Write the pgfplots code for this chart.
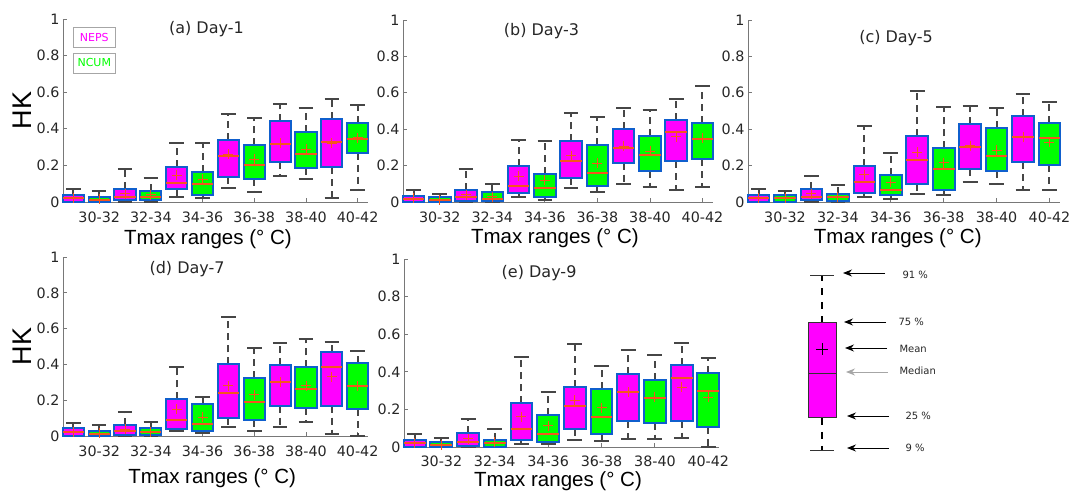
\documentclass[border=0pt]{standalone}
\usepackage{pgfplots}
\pgfplotsset{compat=1.18}
\usepackage{pgfplotstable}
\usepgfplotslibrary{statistics}
\usetikzlibrary{arrows.meta}
\usepackage{fontspec}
\setmainfont{DejaVu Sans}
\newfontfamily\helv{Liberation Sans}
\definecolor{neps}{RGB}{255,0,255}
\definecolor{ncum}{RGB}{0,255,0}
\definecolor{bxblue}{RGB}{15,95,205}
\definecolor{medc}{RGB}{245,85,30}
\definecolor{whc}{RGB}{70,70,70}
\definecolor{axc}{RGB}{120,120,120}
\definecolor{txc}{RGB}{38,38,38}

% columns: position, lower whisker, lower quartile, median, upper quartile, upper whisker, mean
\pgfplotstableread{
pos lw lq med uq uw mean
1 0 0 0.02 0.04 0.07 0.02
2 0 0 0.01 0.027 0.06 0.015
3 0 0.01 0.03 0.07 0.18 0.045
4 0 0.01 0.03 0.06 0.13 0.04
5 0.03 0.07 0.105 0.19 0.32 0.145
6 0.02 0.04 0.10 0.165 0.32 0.125
7 0.077 0.137 0.25 0.34 0.48 0.26
8 0.055 0.128 0.20 0.31 0.46 0.235
9 0.142 0.218 0.315 0.44 0.534 0.32
10 0.126 0.184 0.262 0.38 0.512 0.288
11 0.02 0.19 0.326 0.453 0.563 0.32
12 0.066 0.27 0.344 0.433 0.53 0.35
}\tA
\pgfplotstableread{
pos lw lq med uq uw mean
1 0 0 0.016 0.035 0.066 0.02
2 0 0 0.011 0.026 0.044 0.01
3 0 0.004 0.026 0.066 0.18 0.04
4 0 0.004 0.016 0.055 0.10 0.03
5 0.026 0.048 0.09 0.198 0.34 0.143
6 0.011 0.03 0.075 0.154 0.337 0.12
7 0.075 0.134 0.227 0.333 0.487 0.253
8 0.053 0.09 0.158 0.313 0.469 0.212
9 0.099 0.216 0.298 0.403 0.518 0.305
10 0.084 0.172 0.258 0.364 0.505 0.28
11 0.066 0.225 0.386 0.45 0.564 0.359
12 0.084 0.236 0.344 0.436 0.64 0.35
}\tB
\pgfplotstableread{
pos lw lq med uq uw mean
1 0 0 0.02 0.037 0.07 0.02
2 0 0 0.02 0.037 0.06 0.02
3 0 0.01 0.028 0.07 0.142 0.046
4 0 0.005 0.028 0.044 0.092 0.028
5 0.03 0.05 0.109 0.2 0.418 0.15
6 0.017 0.037 0.064 0.151 0.267 0.11
7 0.044 0.1 0.23 0.365 0.608 0.274
8 0.037 0.066 0.179 0.295 0.52 0.215
9 0.109 0.179 0.304 0.427 0.529 0.31
10 0.1 0.171 0.251 0.405 0.517 0.283
11 0.066 0.218 0.355 0.47 0.591 0.355
12 0.066 0.202 0.352 0.434 0.548 0.329
}\tC
\pgfplotstableread{
pos lw lq med uq uw mean
1 0 0 0.02 0.043 0.07 0.02
2 0 0 0.011 0.03 0.06 0.015
3 0 0.006 0.03 0.06 0.136 0.037
4 0 0.006 0.022 0.043 0.08 0.025
5 0.03 0.037 0.09 0.205 0.384 0.15
6 0.015 0.03 0.067 0.18 0.22 0.104
7 0.052 0.1 0.242 0.40 0.663 0.28
8 0.028 0.09 0.19 0.326 0.494 0.23
9 0.048 0.17 0.30 0.397 0.518 0.30
10 0.077 0.155 0.26 0.384 0.542 0.28
11 0.01 0.17 0.387 0.467 0.523 0.33
12 0 0.15 0.28 0.406 0.477 0.28
}\tD
\pgfplotstableread{
pos lw lq med uq uw mean
1 0 0 0.021 0.039 0.071 0.02
2 0 0 0.011 0.028 0.05 0.012
3 0 0.004 0.025 0.075 0.151 0.043
4 0 0 0.021 0.036 0.094 0.025
5 0.018 0.036 0.096 0.234 0.48 0.16
6 0.014 0.027 0.069 0.169 0.293 0.112
7 0.039 0.098 0.217 0.32 0.55 0.249
8 0.03 0.071 0.16 0.306 0.432 0.208
9 0.045 0.138 0.29 0.386 0.517 0.29
10 0.04 0.13 0.258 0.357 0.491 0.265
11 0.05 0.14 0.365 0.438 0.555 0.317
12 0 0.107 0.298 0.394 0.474 0.266
}\tE
% explanation box (values in picture units)
\pgfplotstableread{
pos lw lq med uq uw mean
822 42 74 119 169 217 143
}\tF

\tikzset{ttl/.style={font=\fontsize{16}{19}\selectfont, text=txc}}

\pgfplotsset{
  boxplot/wline/.style={whc, line width=2pt, dash pattern=on 7pt off 5pt},
  boxplot/wcap/.style={whc, line width=2pt, solid},
  boxplot/draw/lower whisker/.code={%
    \draw[/pgfplots/boxplot/wline]
      (boxplot box cs:\pgfplotsboxplotvalue{lower quartile},0.5) --
      (boxplot box cs:\pgfplotsboxplotvalue{lower whisker},0.5);
    \draw[/pgfplots/boxplot/wcap]
      (boxplot whisker cs:\pgfplotsboxplotvalue{lower whisker},0) --
      (boxplot whisker cs:\pgfplotsboxplotvalue{lower whisker},1);
  },
  boxplot/draw/upper whisker/.code={%
    \draw[/pgfplots/boxplot/wline]
      (boxplot box cs:\pgfplotsboxplotvalue{upper quartile},0.5) --
      (boxplot box cs:\pgfplotsboxplotvalue{upper whisker},0.5);
    \draw[/pgfplots/boxplot/wcap]
      (boxplot whisker cs:\pgfplotsboxplotvalue{upper whisker},0) --
      (boxplot whisker cs:\pgfplotsboxplotvalue{upper whisker},1);
  },
  panel/.style={
    scale only axis, anchor=south west,
    xmin=0.6, xmax=12.4, ymin=0, ymax=1,
    axis x line*=bottom, axis y line*=left,
    axis line style={draw=axc, line width=0.9pt},
    every tick/.style={draw=axc, line width=0.9pt},
    tick align=inside, major tick length=4pt,
    xtick={2,4,6,8,10,12},
    xticklabels={30-32,32-34,34-36,36-38,38-40,40-42},
    ytick={0,0.2,0.4,0.6,0.8,1},
    yticklabels={0,0.2,0.4,0.6,0.8,1},
    ticklabel style={font=\fontsize{14.3}{17}\selectfont, text=txc},
    xticklabel style={anchor=center, yshift=-15pt},
    xlabel={Tmax ranges (° C)},
    clip=false,
    boxplot/draw direction=y,
    boxplot/box extend=0.82,
    boxplot/whisker extend=0.56,
    boxplot/every box/.style={draw=bxblue, line width=2pt},
    boxplot/every median/.style={draw=medc, line width=2pt},
  },
  xlab/.style 2 args={every axis x label/.style={at={(axis description cs:#1,#2)}, anchor=center, font=\helv\fontsize{20.5}{24}\selectfont, text=black}},
  hk/.style={ylabel={HK}, every axis y label/.style={at={(axis description cs:-0.134,0.5)}, rotate=90, anchor=center, font=\helv\fontsize{27}{30}\selectfont, text=black}},
}

% one box: table, row, draw position, fill colour
\newcommand{\onebox}[4]{%
  \pgfplotstablegetelem{#2}{lw}\of#1\let\bLW\pgfplotsretval
  \pgfplotstablegetelem{#2}{lq}\of#1\let\bLQ\pgfplotsretval
  \pgfplotstablegetelem{#2}{med}\of#1\let\bMED\pgfplotsretval
  \pgfplotstablegetelem{#2}{uq}\of#1\let\bUQ\pgfplotsretval
  \pgfplotstablegetelem{#2}{uw}\of#1\let\bUW\pgfplotsretval
  \pgfmathsetmacro\bPos{#3}%
  \edef\doit{\noexpand\addplot[boxplot/every box/.append style={fill=#4},
    boxplot prepared={draw position=\bPos, lower whisker=\bLW, lower quartile=\bLQ,
      median=\bMED, upper quartile=\bUQ, upper whisker=\bUW}] coordinates {};}%
  \doit
}

\newcommand{\panelboxes}[1]{%
  \pgfplotsinvokeforeach{0,2,4,6,8,10}{\onebox{#1}{##1}{##1+1}{neps}}
  \pgfplotsinvokeforeach{1,3,5,7,9,11}{\onebox{#1}{##1}{##1+1}{ncum}}
  \addplot[only marks, mark=+, mark size=5pt, mark options={draw=medc, line width=0.9pt}]
    table[x=pos, y=mean] {#1};
}

\begin{document}
\begin{tikzpicture}
\useasboundingbox (0,0) rectangle (1077pt,492pt);

% (a)
\begin{axis}[panel, at={(63pt,290pt)}, width=305pt, height=183pt, xlab={0.475}{-0.202}, hk]
  \panelboxes{\tA}
  \node[ttl] at (axis cs:6.15,0.945) {(a) Day-1};
  \node[draw=gray!70, line width=0.8pt, fill=white, minimum width=42pt, minimum height=20pt,
        text=neps, font=\fontsize{11}{12}\selectfont] at (axis cs:1.81,0.899) {NEPS};
  \node[draw=gray!70, line width=0.8pt, fill=white, minimum width=42pt, minimum height=20pt,
        text=ncum, font=\fontsize{11}{12}\selectfont] at (axis cs:1.81,0.76) {NCUM};
\end{axis}

% (b)
\begin{axis}[panel, at={(403pt,290pt)}, width=310pt, height=182pt, xlab={0.49}{-0.198}]
  \panelboxes{\tB}
  \node[ttl] at (axis cs:5.87,0.94) {(b) Day-3};
\end{axis}

% (c)
\begin{axis}[panel, at={(748pt,290pt)}, width=312pt, height=182pt, xlab={0.48}{-0.198}]
  \panelboxes{\tC}
  \node[ttl] at (axis cs:6.2,0.90) {(c) Day-5};
\end{axis}

% (d)
\begin{axis}[panel, at={(63pt,56pt)}, width=305pt, height=179pt, xlab={0.489}{-0.235}, hk]
  \panelboxes{\tD}
  \node[ttl] at (axis cs:5.4,0.93) {(d) Day-7};
\end{axis}

% (e)
\begin{axis}[panel, at={(404pt,45pt)}, width=315pt, height=188pt, xlab={0.489}{-0.18},
  xticklabel style={yshift=1pt}]
  \panelboxes{\tE}
  \node[ttl] at (axis cs:5.66,0.925) {(e) Day-9};
\end{axis}

% (f) explanation
\begin{axis}[scale only axis, anchor=south west, at={(780pt,20pt)}, width=200pt, height=220pt,
  xmin=780, xmax=980, ymin=20, ymax=240, hide axis, clip=false,
  boxplot/draw direction=y,
  boxplot/box extend=28, boxplot/whisker extend=24,
  boxplot/every box/.style={draw=black!80, line width=1pt},
  boxplot/every median/.style={draw=black!80, line width=0.9pt},
  boxplot/wline/.style={black, line width=1.7pt, dash pattern=on 7pt off 7pt},
  boxplot/wcap/.style={black!80, line width=0.9pt, solid}]
  \onebox{\tF}{0}{822}{neps}
  \addplot[only marks, mark=+, mark size=6pt, mark options={draw=black, line width=0.8pt}]
    table[x=pos, y=mean] {\tF};
  \begin{scope}[every node/.style={anchor=west, font=\fontsize{10}{12}\selectfont, text=txc},
      arr/.style={-{Stealth[length=9pt,width=7pt]}, line width=0.9pt}]
    \draw[arr] (axis cs:885,219) -- (axis cs:843,219);
    \node at (axis cs:899,217) {91 \%};
    \draw[arr] (axis cs:886,170) -- (axis cs:844,170);
    \node at (axis cs:895,170) {75 \%};
    \draw[arr] (axis cs:887,144) -- (axis cs:845,144);
    \node at (axis cs:896,143) {Mean};
    \draw[arr, draw=gray!70] (axis cs:888,120) -- (axis cs:846,120);
    \node at (axis cs:896,121) {Median};
    \draw[arr] (axis cs:889,76) -- (axis cs:847,76);
    \node at (axis cs:902,76) {25 \%};
    \draw[arr] (axis cs:889,44) -- (axis cs:847,44);
    \node at (axis cs:902,44) {9 \%};
  \end{scope}
\end{axis}
\end{tikzpicture}
\end{document}
